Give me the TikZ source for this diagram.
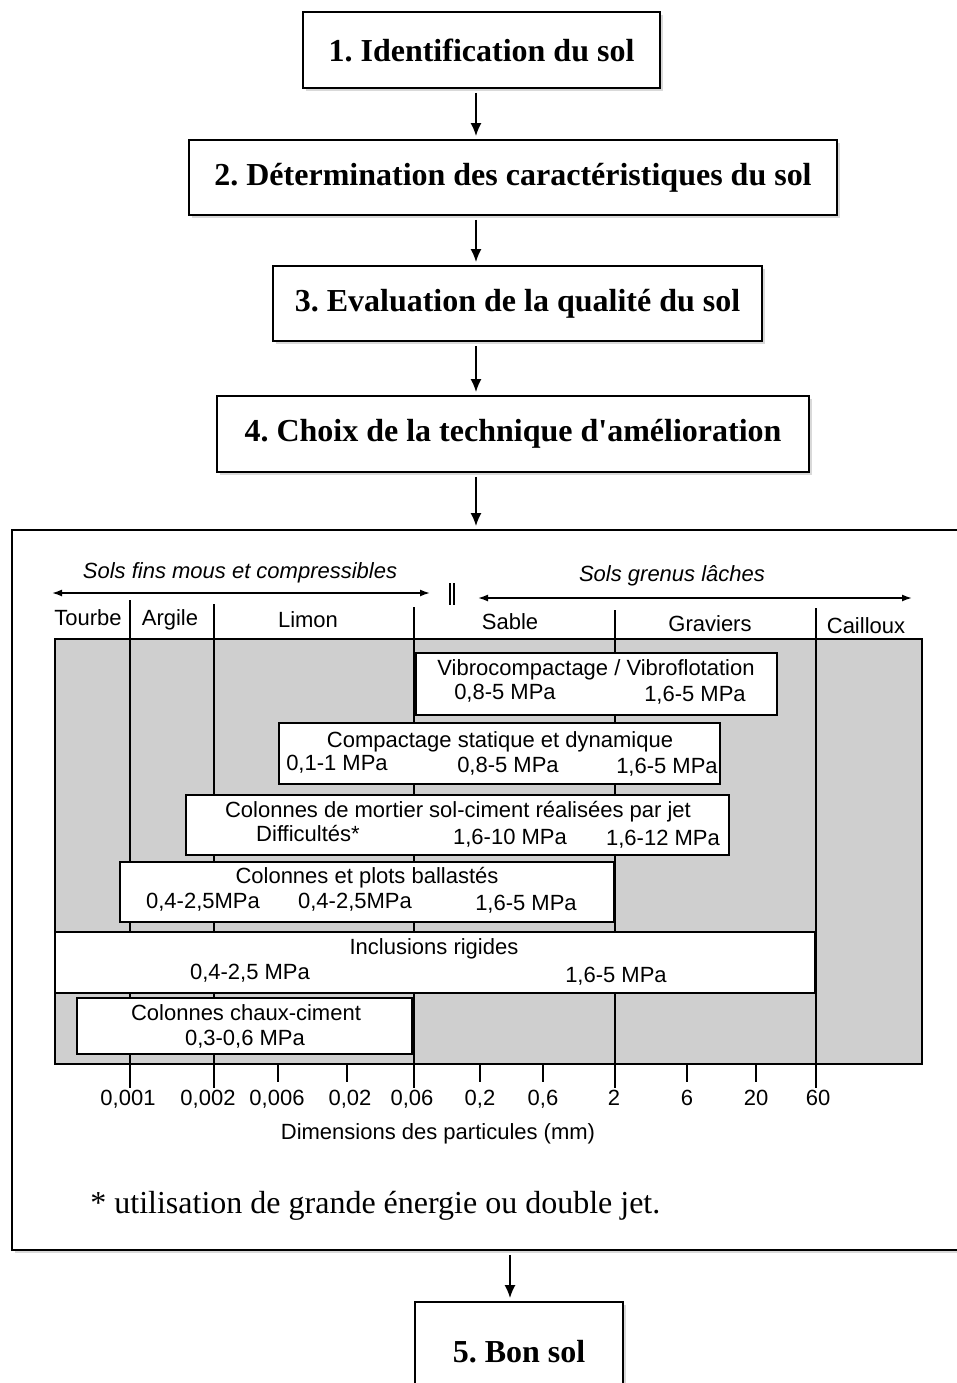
\documentclass[tikz,border=0pt]{standalone}
\usepackage{fontspec}
\setmainfont{Liberation Serif}
\newfontfamily\chartfont{Liberation Sans}
\usetikzlibrary{arrows, arrows.meta, positioning, shadows}
\frenchspacing

\begin{document}
\begin{tikzpicture}[x=0.5pt, y=-0.5pt, >={Latex[length=6.5pt, width=5.5pt]},
	etape/.style={draw, rectangle, fill=white, line width=0.9pt, text centered, inner sep=0pt, font=\bfseries\fontsize{16}{19}\selectfont, drop shadow={shadow xshift=1.5pt, shadow yshift=-1.5pt, opacity=0.3}},
	methode/.style={draw, rectangle, fill=white, line width=0.7pt, inner sep=0pt},
	txt/.style={font=\chartfont\fontsize{11}{13}\selectfont, inner sep=0pt, text height=8pt, text depth=2.3pt, yshift=-1pt},
	fleche/.style={->, line width=0.9pt, shorten <=2pt, shorten >=1.5pt}]

	\useasboundingbox (0,0) rectangle (957,1383);
	\clip (0,0) rectangle (957,1383);

	% Nodes
	\node [etape, minimum width=178.5pt, minimum height=38pt] (ident) at (481.5,50) {1. Identification du sol};
	\node [etape, minimum width=324pt, minimum height=37.5pt] (carac) at (513,177.5) {2. Détermination des caractéristiques du sol};
	\node [etape, minimum width=244.5pt, minimum height=37.5pt] (qualite) at (517.5,303.5) {3. Evaluation de la qualité du sol};
	\node [etape, minimum width=296pt, minimum height=38pt] (choix) at (513,434) {4. Choix de la technique d\textquotesingle amélioration};
	\node [etape, minimum width=475pt, minimum height=360pt] (tableau) at (487,890) {};
	\node [etape, minimum width=104pt, minimum height=50pt] (bonsol) at (519,1352) {5. Bon sol};

	% Arrows
	\coordinate (axe) at (476,0);
	\coordinate (axebas) at (510,0);
	\draw [fleche] (ident.south -| axe) -- (carac.north -| axe);
	\draw [fleche] (carac.south -| axe) -- (qualite.north -| axe);
	\draw [fleche] (qualite.south -| axe) -- (choix.north -| axe);
	\draw [fleche] (choix.south -| axe) -- (tableau.north -| axe);
	\draw [fleche] (tableau.south -| axebas) -- (bonsol.north -| axebas);

	% Chart: background and soil limits
	\fill [gray!38] (55,639) rectangle (922,1064);
	\draw [line width=0.7pt] (55,639) rectangle (922,1064);
	\foreach \x/\ytop in {130/600, 214/604, 414/607, 615/610, 816/608}
		\draw [line width=0.7pt] (\x,\ytop) -- (\x,1088);
	\foreach \x in {278, 347, 480, 543, 687, 756}
		\draw [line width=0.7pt] (\x,1064) -- (\x,1082);

	% Chart: techniques
	\node [methode, minimum width=180.5pt, minimum height=31pt] (vibro) at (596.5,684) {};
	\node [methode, minimum width=220.5pt, minimum height=30.5pt] (compact) at (499.5,753.5) {};
	\node [methode, minimum width=271.5pt, minimum height=30pt] (mortier) at (457.5,825) {};
	\node [methode, minimum width=247pt, minimum height=30pt] (ballast) at (367,892) {};
	\node [methode, minimum width=380pt, minimum height=30.5pt] (inclus) at (435,962.5) {};
	\node [methode, minimum width=167.5pt, minimum height=28pt] (chaux) at (244.5,1026) {};

	\node [txt] (vibro-t) at (596,668) {Vibrocompactage / Vibroflotation};
	\node [txt] (vibro-a) at (505,692) {0,8-5 MPa};
	\node [txt] (vibro-b) at (695,694) {1,6-5 MPa};
	\node [txt] (compact-t) at (500,740) {Compactage statique et dynamique};
	\node [txt] (compact-a) at (337,763) {0,1-1 MPa};
	\node [txt] (compact-b) at (508,765) {0,8-5 MPa};
	\node [txt] (compact-c) at (667,766) {1,6-5 MPa};
	\node [txt] (mortier-t) at (458,810) {Colonnes de mortier sol-ciment réalisées par jet};
	\node [txt] (mortier-a) at (308,834) {Difficultés*};
	\node [txt] (mortier-b) at (510,837) {1,6-10 MPa};
	\node [txt] (mortier-c) at (663,838) {1,6-12 MPa};
	\node [txt] (ballast-t) at (367,876) {Colonnes et plots ballastés};
	\node [txt] (ballast-a) at (203,901) {0,4-2,5MPa};
	\node [txt] (ballast-b) at (355,901) {0,4-2,5MPa};
	\node [txt] (ballast-c) at (526,903) {1,6-5 MPa};
	\node [txt] (inclus-t) at (434,947) {Inclusions rigides};
	\node [txt] (inclus-a) at (250,972) {0,4-2,5 MPa};
	\node [txt] (inclus-b) at (616,975) {1,6-5 MPa};
	\node [txt] (chaux-t) at (246,1013) {Colonnes chaux-ciment};
	\node [txt] (chaux-a) at (245,1038) {0,3-0,6 MPa};

	% Chart: soil classes
	\node [txt, font=\chartfont\itshape\fontsize{11}{13}\selectfont] (fins) at (240,571) {Sols fins mous et compressibles};
	\node [txt, font=\chartfont\itshape\fontsize{11}{13}\selectfont] (grenus) at (672,574) {Sols grenus lâches};
	\coordinate (fins-g) at (52,593);
	\coordinate (fins-d) at (430,593);
	\coordinate (grenus-g) at (478,598);
	\coordinate (grenus-d) at (912,598);
	\draw [{Latex[length=5pt, width=3.5pt]}-{Latex[length=5pt, width=3.5pt]}, line width=0.8pt] (fins-g) -- (fins-d);
	\draw [{Latex[length=5pt, width=3.5pt]}-{Latex[length=5pt, width=3.5pt]}, line width=0.8pt] (grenus-g) -- (grenus-d);
	\draw [line width=0.9pt] (450,583) -- (450,605) (454,583) -- (454,605);

	\node [txt] (tourbe) at (88,618) {Tourbe};
	\node [txt] (argile) at (170,618) {Argile};
	\node [txt] (limon) at (308,620) {Limon};
	\node [txt] (sable) at (510,622) {Sable};
	\node [txt] (graviers) at (710,624) {Graviers};
	\node [txt] (cailloux) at (866,626) {Cailloux};

	% Chart: axis
	\foreach \x/\val in {128/{0,001}, 208/{0,002}, 277/{0,006}, 350/{0,02}, 412/{0,06}, 480/{0,2}, 543/{0,6}, 614/2, 687/6, 756/20, 818/60}
		\node [txt] at (\x,1098) {\val};
	\node [txt] (dimensions) at (438,1132) {Dimensions des particules (mm)};

	% Labels
	\node [anchor=west, inner sep=0pt, font=\fontsize{16}{19}\selectfont] (note) at (90,1206) {* utilisation de grande énergie ou double jet.};

\end{tikzpicture}
\end{document}
